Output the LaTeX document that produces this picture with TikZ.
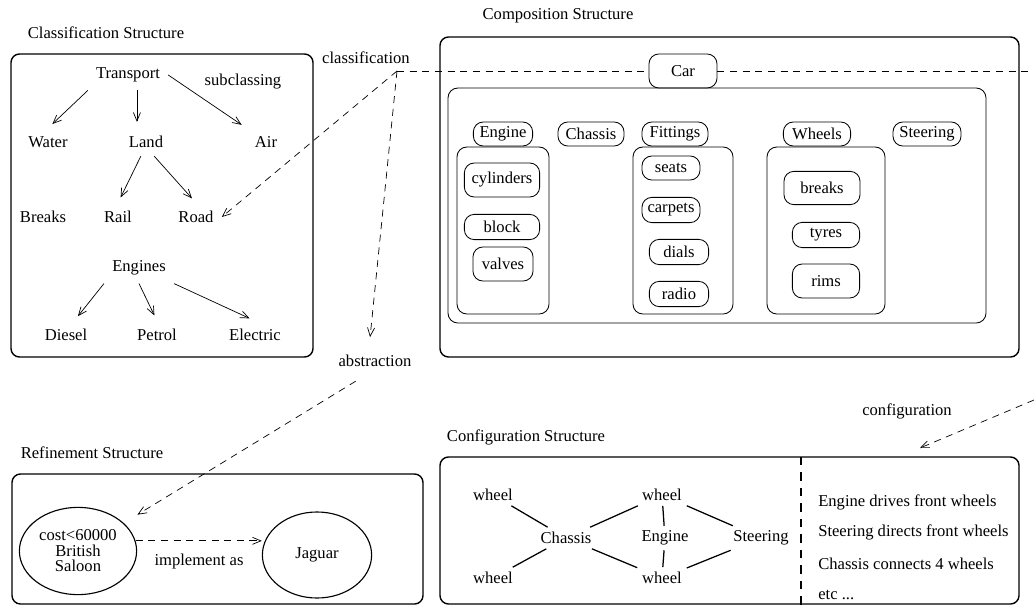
\documentclass[tikz,border=0pt]{standalone}
\usepackage{fontspec}
\setmainfont{Liberation Serif}
\usetikzlibrary{arrows.meta,shapes.geometric}

\begin{document}
\begin{tikzpicture}[x=0.025cm, y=-0.025cm, >={Straight Barb[length=6pt,width=5pt]}]
	\tikzstyle{every node}=[font=\fontsize{11.8}{14}\selectfont]
	\tikzstyle{frame}=[draw, line width=1pt, rounded corners=6pt]
	\tikzstyle{group}=[draw, line width=0.6pt, rounded corners=7pt]
	\tikzstyle{part}=[draw, line width=0.6pt, rounded corners=7pt, inner sep=0pt]
	\tikzstyle{cls}=[inner sep=0.2cm]
	\tikzstyle{isa}=[->, line width=0.5pt, shorten >=0.15cm]
	\tikzstyle{dashline}=[line width=0.5pt, dash pattern=on 5pt off 4pt]
	\tikzstyle{rel}=[dashline, ->]
	\tikzstyle{tie}=[line width=0.9pt]

	\useasboundingbox (0,0) rectangle (1034,605);

	% classification structure
	\node (clstitle) at (106,33) {Classification Structure};
	\draw[frame] (11,54) rectangle (313,357);
	\node[cls] (transport) at (128,75) {Transport};
	\node (subcl) at (243,82) {subclassing};
	\node[cls] (water) at (48,142) {Water};
	\node[cls] (land) at (146,142) {Land};
	\node[cls] (air) at (266,142) {Air};
	\node[cls] (breaks) at (43,217) {Breaks};
	\node[cls] (rail) at (118,217) {Rail};
	\node[cls] (road) at (196,217) {Road};
	\node[cls] (engines) at (139,268) {Engines};
	\node[cls] (diesel) at (66,335) {Diesel};
	\node[cls] (petrol) at (157,335) {Petrol};
	\node[cls] (electric) at (255,335) {Electric};

	\draw[isa] (transport.south west) -- (water.north);
	\draw[isa] (transport.-60) -- (transport.-60 |- land.north);
	\draw[isa] (transport.east) -- (air.north west);
	\draw[isa] (land.-110) -- (rail.north);
	\draw[isa] (land.-60) -- (road.north);
	\draw[isa] (engines.south west) -- (diesel.60);
	\draw[isa] (engines.south) -- (petrol.north);
	\draw[isa] (engines.south east) -- (electric.north);

	% composition structure
	\node (comptitle) at (558,16) {Composition Structure};
	\draw[frame] (440,37) rectangle (1019,357);
	\draw[group] (448,88) rectangle (986,323);
	\draw[group] (457,147) rectangle (549,314);
	\draw[group] (633,147) rectangle (733,314);
	\draw[group] (767,147) rectangle (885,314);
	\node[part, minimum width=1.7cm, minimum height=0.85cm] (car) at (683,71) {Car};
	\node[part, minimum width=1.48cm, minimum height=0.6cm] (engine) at (503,134) {Engine};
	\node[part, minimum width=1.65cm, minimum height=0.6cm] (chassis) at (591,134) {Chassis};
	\node[part, minimum width=1.65cm, minimum height=0.6cm] (fittings) at (675,134) {Fittings};
	\node[part, minimum width=1.68cm, minimum height=0.6cm] (wheels) at (817,134) {Wheels};
	\node[part, minimum width=1.7cm, minimum height=0.6cm] (steering) at (927,134) {Steering};
	\node[part, minimum width=1.88cm, minimum height=0.85cm] (cylinders) at (502,180) {cylinders};
	\node[part, minimum width=1.88cm, minimum height=0.63cm] (block) at (502,227) {block};
	\node[part, minimum width=1.5cm, minimum height=0.85cm] (valves) at (503,264) {valves};
	\node[part, minimum width=1.45cm, minimum height=0.6cm] (seats) at (671,168) {seats};
	\node[part, minimum width=1.45cm, minimum height=0.63cm] (carpets) at (671,210) {carpets};
	\node[part, minimum width=1.48cm, minimum height=0.63cm] (dials) at (679,252) {dials};
	\node[part, minimum width=1.48cm, minimum height=0.63cm] (radio) at (679,294) {radio};
	\node[part, minimum width=1.9cm, minimum height=0.83cm] (wbreaks) at (822,188) {breaks};
	\node[part, minimum width=1.68cm, minimum height=0.63cm] (tyres) at (826,235) {tyres};
	\node[part, minimum width=1.68cm, minimum height=0.85cm] (rims) at (826,281) {rims};

	% refinement structure
	\node (reftitle) at (92,453) {Refinement Structure};
	\draw[frame] (12,474) rectangle (423,604);
	\node[ellipse, draw, line width=0.8pt, minimum width=2.93cm, minimum height=2.18cm, inner sep=0pt, align=center, font=\fontsize{11.8}{11}\selectfont] (brit) at (78,551) {cost<60000\\British\\Saloon};
	\node[ellipse, draw, line width=0.8pt, minimum width=2.73cm, minimum height=2.15cm, inner sep=0pt] (jaguar) at (317,555) {Jaguar};
	\draw[rel] (brit.10) -- (brit.10 -| jaguar.west);
	\node (implas) at (199,562) {implement as};

	% links between the structures
	\node (clslabel) at (366,58) {classification};
	\coordinate (clsfrom) at (397,71);
	\coordinate (clsout) at (1034,71);
	\draw[dashline] (clsfrom) -- (car);
	\draw[dashline] (car) -- (clsout);
	\draw[rel] (clsfrom) -- (road.east);
	\node (abst) at (375,361) {abstraction};
	\draw[rel, shorten >=0.33cm] (clsfrom) -- (abst.120);
	\draw[rel, shorten <=0.45cm, shorten >=0.4cm] (abst.-110) -- (brit);
	\node (conflabel) at (907,411) {configuration};
	\coordinate (confin) at (1034,400);
	\coordinate (confto) at (920,448);
	\draw[rel] (confin) -- (confto);

	% configuration structure
	\node (conftitle) at (526,437) {Configuration Structure};
	\draw[frame] (440,457) rectangle (1019,604);
	\draw[line width=1.2pt, dash pattern=on 6pt off 5pt] (801,457) -- (801,605);
	\node (wtl) at (493,495) {wheel};
	\node (wbl) at (493,578) {wheel};
	\node (wtm) at (662,495) {wheel};
	\node (wbm) at (662,578) {wheel};
	\node (cchassis) at (566,538) {Chassis};
	\node (cengine) at (665,538) {Engine};
	\node (csteering) at (761,538) {Steering};
	\draw[tie] (wtl) -- (cchassis);
	\draw[tie] (wbl) -- (cchassis);
	\draw[tie] (cchassis) -- (wtm);
	\draw[tie] (cchassis) -- (wbm);
	\draw[tie] (cengine) -- (wtm);
	\draw[tie] (cengine) -- (wbm);
	\draw[tie] (wtm) -- (csteering);
	\draw[tie] (wbm) -- (csteering);
	\node[anchor=west, inner sep=0pt] (rule1) at (818,502) {Engine drives front wheels};
	\node[anchor=west, inner sep=0pt] (rule2) at (818,532) {Steering directs front wheels};
	\node[anchor=west, inner sep=0pt] (rule3) at (818,564) {Chassis connects 4 wheels};
	\node[anchor=west, inner sep=0pt] (rule4) at (818,595) {etc ...};
\end{tikzpicture}
\end{document}
